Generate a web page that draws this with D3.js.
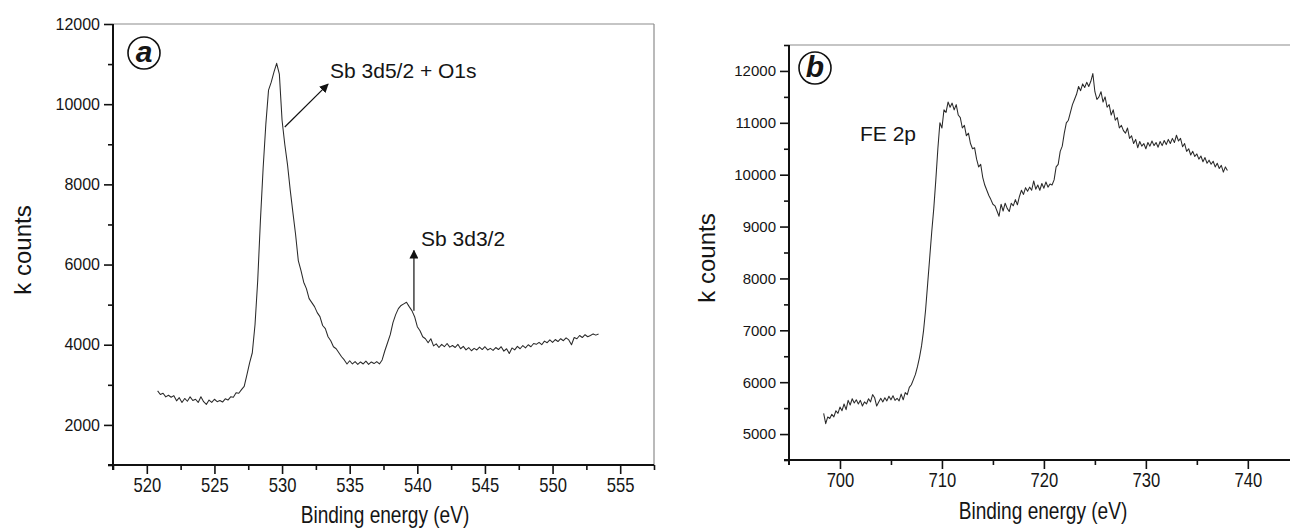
<!DOCTYPE html>
<html>
<head>
<meta charset="utf-8">
<script src="https://cdn.jsdelivr.net/npm/d3@7"></script>
<style>
  body { margin: 0; background: #fff; }
  text { font-family: "Liberation Sans", Arial, sans-serif; fill: #151515; }
</style>
</head>
<body>
<svg id="chart" width="1290" height="532"></svg>
<script>
// ---- panel (a): Sb 3d / O 1s, sampled every 0.2 eV from 520.8 eV
const startA = 520.8, stepA = 0.2;
const countsA = [
  2850, 2760, 2790, 2700, 2740, 2690, 2730, 2600, 2680, 2560,
  2660, 2590, 2700, 2610, 2640, 2560, 2700, 2580, 2510, 2620,
  2560, 2640, 2580, 2610, 2570, 2650, 2620, 2700, 2690, 2800,
  2790, 2880, 2960, 3250, 3550, 3800, 4500, 5600, 7100, 8400,
  9500, 10350, 10550, 10800, 11020, 10750, 9600, 9000, 8500, 7870,
  7300, 6750, 6100, 5850, 5560, 5400, 5150, 5050, 4950, 4800,
  4700, 4480, 4400, 4200, 4100, 3950, 3900, 3800, 3700, 3620,
  3520, 3600, 3520, 3580, 3510, 3570, 3520, 3590, 3510, 3570,
  3530, 3580, 3520, 3620, 3850, 4050, 4250, 4550, 4750, 4900,
  4980, 5020, 5060, 4950, 4850, 4700, 4450, 4350, 4200, 4150,
  4050, 4150, 3970, 4020, 3930, 4010, 3950, 4030, 3940, 3980,
  3930, 4010, 3900, 3960, 3870, 3930, 3850, 3910, 3870, 3940,
  3880, 3950, 3870, 3910, 3860, 3930, 3880, 3950, 3840, 3900,
  3780, 3920, 3870, 3960, 3900, 3980, 3920, 4000, 3950, 4030,
  4010, 4060, 4000, 4090, 4050, 4120, 4060, 4130, 4080, 4150,
  4100, 4170, 4120, 4000, 4180, 4150, 4230, 4180, 4250, 4200,
  4230, 4270, 4240, 4270
];
const xTicksA = [520, 525, 530, 535, 540, 545, 550, 555];
const xMinorA = [517.5, 522.5, 527.5, 532.5, 537.5, 542.5, 547.5, 552.5, 557.5];
const yTicksA = [2000, 4000, 6000, 8000, 10000, 12000];
const yMinorA = [1000, 3000, 5000, 7000, 9000, 11000];

// ---- panel (b): Fe 2p, sampled every 0.2 eV from 698.4 eV
const startB = 698.4, stepB = 0.2;
const countsB = [
  5400, 5200, 5330, 5300, 5380, 5330, 5450, 5400, 5520, 5450,
  5580, 5470, 5650, 5560, 5680, 5600, 5660, 5580, 5650, 5540,
  5620, 5580, 5680, 5620, 5760, 5700, 5540, 5620, 5690, 5620,
  5700, 5640, 5730, 5660, 5740, 5650, 5690, 5640, 5770, 5660,
  5800, 5760, 5900, 5950, 6050, 6150, 6300, 6480, 6700, 7000,
  7400, 7900, 8400, 8900, 9350, 9900, 10500, 11000, 10900, 11250,
  11200, 11400, 11300, 11380, 11250, 11350, 11150, 11100, 10900, 10950,
  10750, 10800, 10600, 10500, 10520, 10300, 10150, 10200, 9950, 9800,
  9700, 9600, 9520, 9430, 9400, 9300, 9200, 9430, 9300, 9450,
  9350, 9290, 9450, 9400, 9520, 9420, 9580, 9700, 9620, 9750,
  9680, 9760, 9700, 9880, 9720, 9800, 9700, 9830, 9740, 9860,
  9760, 9820, 9800, 9900, 10150, 10200, 10450, 10550, 10800, 11000,
  11050, 11200, 11350, 11450, 11550, 11700, 11620, 11750, 11680, 11780,
  11700, 11800, 11950, 11600, 11450, 11500, 11600, 11400, 11500, 11300,
  11350, 11150, 11250, 11050, 11100, 10900, 10950, 10850, 10800, 10900,
  10700, 10750, 10600, 10680, 10520, 10640, 10550, 10600, 10500, 10620,
  10550, 10650, 10560, 10620, 10530, 10640, 10560, 10660, 10580, 10680,
  10600, 10700, 10620, 10760, 10650, 10700, 10540, 10600, 10450, 10500,
  10380, 10450, 10350, 10400, 10300, 10360, 10250, 10330, 10220, 10280,
  10200, 10260, 10150, 10220, 10120, 10180, 10050, 10150, 10080
];
const xTicksB = [700, 710, 720, 730, 740];
const xMinorB = [705, 715, 725, 735, 745];
const yTicksB = [5000, 6000, 7000, 8000, 9000, 10000, 11000, 12000];
const yMinorB = [4500, 5500, 6500, 7500, 8500, 9500, 10500, 11500, 12500];

const SQUEEZE = 0.83; // the original lettering is condensed
const svg = d3.select("#chart");

svg.append("defs").append("marker")
  .attr("id", "head")
  .attr("viewBox", "0 0 10 10")
  .attr("refX", 9).attr("refY", 5)
  .attr("markerWidth", 9).attr("markerHeight", 9)
  .attr("markerUnits", "userSpaceOnUse")
  .attr("orient", "auto")
  .append("path").attr("d", "M0,0 L10,5 L0,10 Z").attr("fill", "#111");

function drawPanel(p) {
  const x = d3.scaleLinear().domain(p.xDomain).range(p.xRange);
  const y = d3.scaleLinear().domain(p.yDomain).range(p.yRange);
  const g = svg.append("g");
  const [x0, x1] = p.xRange, [yb, yt] = p.yRange;

  // light frame on top / right
  g.append("line").attr("x1", x0).attr("x2", p.frameRight).attr("y1", yt).attr("y2", yt)
    .attr("stroke", "#8c8c8c").attr("stroke-width", 1.2);
  if (p.frameRight < 1290) {
    g.append("line").attr("x1", p.frameRight).attr("x2", p.frameRight).attr("y1", yt).attr("y2", yb)
      .attr("stroke", "#8c8c8c").attr("stroke-width", 1.2);
  }

  // spectrum
  const pts = p.counts.map((c, i) => [p.start + i * p.step, c]);
  g.append("path").datum(pts)
    .attr("d", d3.line().x(d => x(d[0])).y(d => y(d[1])))
    .attr("fill", "none").attr("stroke", "#2a2a2a").attr("stroke-width", 1.05)
    .attr("stroke-linejoin", "round");

  // axes
  const xg = g.append("g").attr("transform", `translate(0,${yb})`)
    .call(d3.axisBottom(x).tickValues(p.xTicks).tickSize(9).tickSizeOuter(0).tickPadding(4));
  g.append("g").attr("transform", `translate(0,${yb})`)
    .call(d3.axisBottom(x).tickValues(p.xMinor.filter(v => x(v) <= 1290)).tickSize(5).tickSizeOuter(0).tickFormat(""))
    .select(".domain").remove();
  const yg = g.append("g").attr("transform", `translate(${x0},0)`)
    .call(d3.axisLeft(y).tickValues(p.yTicks).tickSize(9).tickSizeOuter(0).tickPadding(4)
      .tickFormat(d3.format("d")));
  g.append("g").attr("transform", `translate(${x0},0)`)
    .call(d3.axisLeft(y).tickValues(p.yMinor).tickSize(5).tickSizeOuter(0).tickFormat(""))
    .select(".domain").remove();
  [xg, yg].forEach(a => a.select(".domain").remove());
  g.selectAll(".tick line").attr("stroke", "#111").attr("stroke-width", 1.6);
  xg.selectAll("text").attr("font-size", 20).attr("fill", "#151515")
    .attr("font-family", "'Liberation Sans', Arial, sans-serif")
    .attr("transform", `scale(${SQUEEZE},1)`);
  yg.selectAll("text").attr("font-size", p.yFont).attr("fill", "#151515")
    .attr("font-family", "'Liberation Sans', Arial, sans-serif");

  // black axis lines, crossing a little at the corner
  g.append("line").attr("x1", x0 - 5).attr("x2", Math.min(x1, 1290)).attr("y1", yb).attr("y2", yb)
    .attr("stroke", "#111").attr("stroke-width", 2);
  g.append("line").attr("x1", x0).attr("x2", x0).attr("y1", yt).attr("y2", yb + 5)
    .attr("stroke", "#111").attr("stroke-width", 2);

  // titles
  g.append("text").attr("transform", `translate(${p.xTitle[0]},${p.xTitle[1]}) scale(${SQUEEZE},1)`)
    .attr("text-anchor", "middle").attr("font-size", 23).text("Binding energy (eV)");
  g.append("text").attr("transform", `translate(${p.yTitle[0]},${p.yTitle[1]}) rotate(-90)`)
    .attr("text-anchor", "middle").attr("dy", "0.35em")
    .attr("font-size", 24).text("k counts");

  // circled panel letter
  g.append("circle").attr("cx", p.badge[0]).attr("cy", p.badge[1]).attr("r", 16)
    .attr("fill", "none").attr("stroke", "#111").attr("stroke-width", 1.6);
  g.append("text").attr("x", p.badge[0]).attr("y", p.badge[1] + 9).attr("text-anchor", "middle")
    .attr("font-family", "'Liberation Serif', 'Times New Roman', serif")
    .attr("font-style", "italic").attr("font-weight", "bold").attr("font-size", 30)
    .text(p.letter);

  return { g, x, y };
}

const A = drawPanel({
  counts: countsA, start: startA, step: stepA,
  xDomain: [517.5, 557.5], xRange: [113, 654],
  yDomain: [1000, 12000], yRange: [465, 24],
  xTicks: xTicksA, xMinor: xMinorA, yTicks: yTicksA, yMinor: yMinorA,
  frameRight: 654, yFont: 16,
  xTitle: [385, 523], yTitle: [23, 250],
  badge: [144, 53], letter: "a"
});

const B = drawPanel({
  counts: countsB, start: startB, step: stepB,
  xDomain: [695, 746], xRange: [789, 1309],
  yDomain: [4500, 12500], yRange: [460, 45],
  xTicks: xTicksB, xMinor: xMinorB, yTicks: yTicksB, yMinor: yMinorB,
  frameRight: 1309, yFont: 15,
  xTitle: [1043, 519], yTitle: [707, 258],
  badge: [815, 68], letter: "b"
});

// annotations, panel (a)
A.g.append("line")
  .attr("x1", A.x(530.2)).attr("y1", A.y(9430))
  .attr("x2", A.x(533.4)).attr("y2", A.y(10500))
  .attr("stroke", "#111").attr("stroke-width", 1.2).attr("marker-end", "url(#head)");
A.g.append("text").attr("x", 330).attr("y", 78).attr("font-size", 21).text("Sb 3d5/2 + O1s");

A.g.append("line")
  .attr("x1", A.x(539.75)).attr("y1", A.y(4850))
  .attr("x2", A.x(539.75)).attr("y2", A.y(6350))
  .attr("stroke", "#111").attr("stroke-width", 1.2).attr("marker-end", "url(#head)");
A.g.append("text").attr("x", 421).attr("y", 246).attr("font-size", 21).text("Sb 3d3/2");

// annotation, panel (b)
B.g.append("text").attr("x", 860).attr("y", 141).attr("font-size", 21).text("FE 2p");
</script>
</body>
</html>
